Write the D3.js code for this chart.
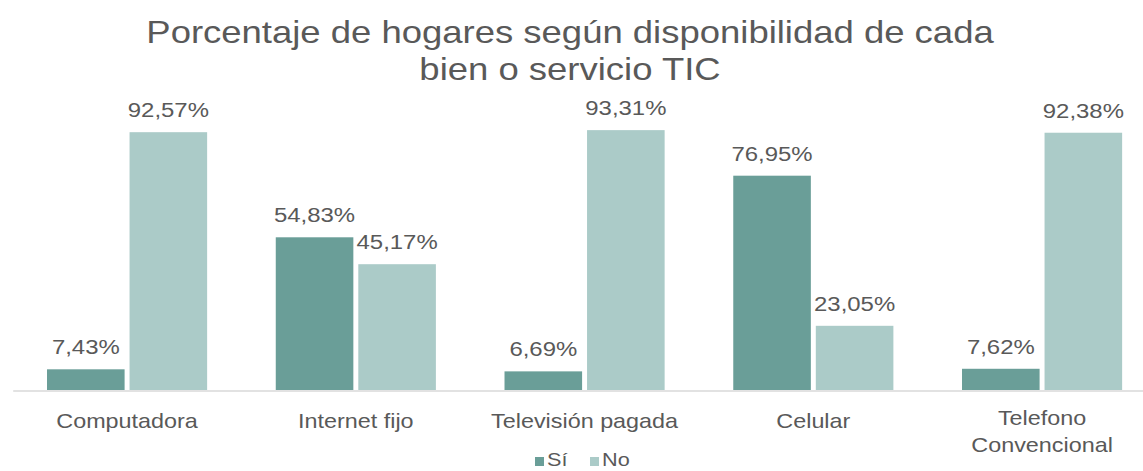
<!DOCTYPE html>
<html>
<head>
<meta charset="utf-8">
<script src="https://cdn.jsdelivr.net/npm/d3@7"></script>
<style>
  body { margin: 0; background: #fff; }
  svg { display: block; font-family: "Liberation Sans", Arial, sans-serif; }
</style>
</head>
<body>
<svg id="chart"></svg>
<script>
// chart data
const categories = ["Computadora", "Internet fijo", "Televisión pagada", "Celular", "Telefono Convencional"];
const seriesNames = ["Sí", "No"];
const siValues = [7.43, 54.83, 6.69, 76.95, 7.62];
const noValues = [92.57, 45.17, 93.31, 23.05, 92.38];
const titleLines = ["Porcentaje de hogares según disponibilidad de cada", "bien o servicio TIC"];

const width = 1143;
const height = 471;
const stretch = 1.14; // source picture text is a bit wide
const textColor = "#595959";
const colors = { "Sí": "#6a9e98", "No": "#abcbc8" };

const svg = d3.select("#chart").attr("width", width).attr("height", height);

const data = categories.map((c, i) => ({ category: c, values: [
  { key: "Sí", value: siValues[i] },
  { key: "No", value: noValues[i] }
] }));

const x0 = d3.scaleBand()
  .domain(categories)
  .range([12.7, 12.7 + 5 * 228.75])
  .paddingInner(0.3)
  .paddingOuter(0.15);

const x1 = d3.scaleBand()
  .domain(seriesNames)
  .range([0, x0.bandwidth()])
  .paddingInner(0.06);

const y = d3.scaleLinear().domain([0, 100]).range([390, 111.5]);

const fmt = v => d3.format(".2f")(v).replace(".", ",") + "%";

// title
svg.append("g")
  .selectAll("text")
  .data(titleLines)
  .enter()
  .append("text")
  .attr("transform", (d, i) => `translate(570,${43 + i * 37}) scale(${stretch},1)`)
  .attr("text-anchor", "middle")
  .attr("fill", textColor)
  .style("font-size", "32px")
  .text(d => d);

// bars
const groups = svg.append("g")
  .selectAll("g")
  .data(data)
  .enter()
  .append("g")
  .attr("transform", d => `translate(${x0(d.category)},0)`);

groups.selectAll("rect")
  .data(d => d.values)
  .enter()
  .append("rect")
  .attr("x", d => x1(d.key))
  .attr("y", d => y(d.value))
  .attr("width", x1.bandwidth())
  .attr("height", d => y(0) - y(d.value))
  .attr("fill", d => colors[d.key]);

groups.selectAll("text")
  .data(d => d.values)
  .enter()
  .append("text")
  .attr("transform", d => `translate(${x1(d.key) + x1.bandwidth() / 2},${y(d.value) - 15}) scale(${stretch},1)`)
  .attr("text-anchor", "middle")
  .attr("fill", textColor)
  .style("font-size", "21px")
  .text(d => fmt(d.value));

// category axis
const xAxis = d3.axisBottom(x0).tickSize(0).tickSizeOuter(0);
const axisG = svg.append("g")
  .attr("transform", "translate(0,390.5)")
  .call(xAxis);

axisG.select(".domain").attr("stroke", "#d9d9d9").attr("stroke-width", 1.5);

axisG.selectAll(".tick text")
  .attr("fill", textColor)
  .attr("y", 37.5)
  .attr("dy", 0)
  .attr("transform", `scale(${stretch},1)`)
  .style("font-size", "20.5px")
  .style("font-family", "'Liberation Sans', Arial, sans-serif")
  .each(function (d) {
    const t = d3.select(this);
    if (this.getComputedTextLength() * stretch > x0.step()) {
      const words = d.split(" ");
      t.text(null);
      words.forEach((w, i) => {
        t.append("tspan").attr("x", 0).attr("dy", i === 0 ? -3 : 27).text(w);
      });
    }
  });

// legend
const legend = svg.append("g").attr("transform", "translate(535,0)");
const legendX = [0, 55];
seriesNames.forEach((name, i) => {
  legend.append("rect")
    .attr("x", legendX[i])
    .attr("y", 457)
    .attr("width", 9)
    .attr("height", 9)
    .attr("fill", colors[name]);
  legend.append("text")
    .attr("transform", `translate(${legendX[i] + 12},466) scale(${stretch},1)`)
    .attr("fill", textColor)
    .style("font-size", "19px")
    .text(name);
});
</script>
</body>
</html>
